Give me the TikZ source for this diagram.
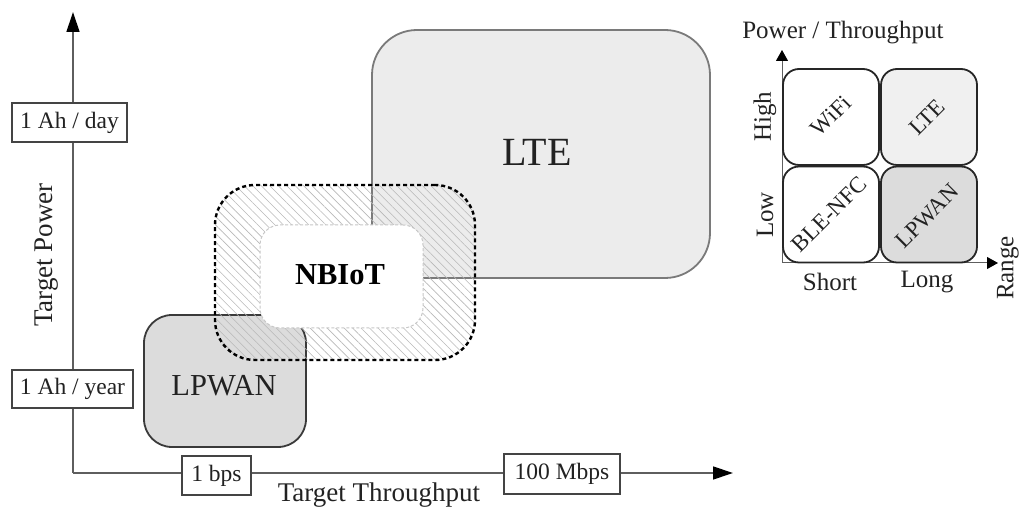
\documentclass[tikz,border=0pt]{standalone}
\usepackage{fontspec}
\setmainfont{Liberation Serif}
\usetikzlibrary{arrows.meta,patterns.meta}
\definecolor{axisgray}{HTML}{5E5E5E}
\definecolor{boxline}{HTML}{444444}
\definecolor{ltefill}{HTML}{ECECEC}
\definecolor{lteline}{HTML}{7A7A7A}
\definecolor{lpfill}{HTML}{DCDCDC}
\definecolor{lpline}{HTML}{3A3A3A}
\definecolor{txt}{HTML}{222222}
\tikzset{
  axisline/.style={draw=axisgray, line width=1.3pt},
  valbox/.style={draw=boxline, fill=white, line width=1.2pt, inner sep=0pt, outer sep=0pt,
    text=txt, font=\fontsize{23.5}{26}\selectfont},
  axlabel/.style={text=txt, font=\fontsize{27}{30}\selectfont, inner sep=0pt},
  bigbox/.style={rectangle, inner sep=0pt, outer sep=0pt, line width=1.8pt},
  chartbox/.style={rectangle, draw=black!85, line width=1.8pt, rounded corners=16pt,
    inner sep=0pt, outer sep=0pt, minimum width=96pt, minimum height=96pt},
  chartlabel/.style={text=txt, font=\fontsize{25}{28}\selectfont, inner sep=0pt},
  boxlabel/.style={text=txt, font=\fontsize{23}{26}\selectfont, inner sep=0pt, rotate=45},
}
\begin{document}
\begin{tikzpicture}[x=1pt,y=-1pt]
\useasboundingbox (0,0) rectangle (1021,510);
% main axes
\coordinate (O) at (73,473);
\coordinate (ytip) at (73,12);
\coordinate (xtip) at (733,473);
\draw[axisline, -{Triangle[length=20pt,width=13pt,color=black]}] (O) -- (ytip);
\draw[axisline, -{Triangle[length=20pt,width=13pt,color=black]}] (O) -- (xtip);
% big boxes
\node[bigbox, draw=lteline, fill=ltefill, rounded corners=45pt,
  minimum width=338pt, minimum height=248pt] (lte) at (541,154) {};
\node[text=txt, font=\fontsize{40}{44}\selectfont, inner sep=0pt] (ltet) at (537,152) {LTE};
\node[bigbox, draw=lpline, fill=lpfill, rounded corners=28pt,
  minimum width=162pt, minimum height=132pt] (lpwan) at (225,381) {};
\node[text=txt, font=\fontsize{30.5}{33}\selectfont, inner sep=0pt] (lpwant) at (224,386) {LPWAN};
% NB-IoT
\node[bigbox, rounded corners=40pt, minimum width=260pt, minimum height=175pt,
  pattern={Lines[angle=-45,distance=6pt,line width=0.6pt]}, pattern color=black!28]
  (nbo) at (345,272.5) {};
\node[bigbox, draw=black, line width=2.4pt, dash pattern=on 4pt off 3pt, rounded corners=40pt,
  minimum width=260pt, minimum height=175pt] (nbob) at (345,272.5) {};
\node[bigbox, draw=black!22, line width=1pt, dash pattern=on 3pt off 2pt, fill=white,
  rounded corners=20pt, minimum width=163pt, minimum height=103pt] (nbi) at (341.5,276.5) {};
\node[text=black, font=\fontsize{30.5}{33}\selectfont\bfseries, inner sep=0pt] (nbt) at (340,275) {NBIoT};
% value boxes
\node[valbox, minimum width=115pt, minimum height=39pt] (day) at (69.5,122.5) {1 Ah / day};
\node[valbox, minimum width=121pt, minimum height=38pt] (year) at (72.5,389) {1 Ah / year};
\node[valbox, minimum width=69pt, minimum height=39pt] (bps) at (216.5,475.5) {1 bps};
\node[valbox, minimum width=116pt, minimum height=40pt] (mbps) at (562,474) {100 Mbps};
\node[axlabel, rotate=90] (tpow) at (47,255) {Target Power};
\node[axlabel] (tthr) at (379,495) {Target Throughput};
% small chart
\coordinate (o2) at (782,263);
\coordinate (y2) at (782,50);
\coordinate (x2) at (998,263);
\draw[axisline, line width=1pt, -{Triangle[length=11pt,width=12pt,color=black]}] (o2) -- (y2);
\draw[axisline, line width=1pt, -{Triangle[length=11pt,width=12pt,color=black]}] (o2) -- (x2);
\node[chartbox, fill=white] (wifi) at (831,117) {};
\node[chartbox, fill=ltefill!80!white] (clte) at (929,117) {};
\node[chartbox, fill=white] (ble) at (831,214.5) {};
\node[chartbox, fill=lpfill] (clp) at (929,214.5) {};
\node[boxlabel] (wifit) at (831,116) {WiFi};
\node[boxlabel] (cltet) at (927,117) {LTE};
\node[boxlabel] (blet) at (829,214) {BLE-NFC};
\node[boxlabel] (clpt) at (927,216) {LPWAN};
\node[chartlabel] (pt) at (843,33) {Power / Throughput};
\node[chartlabel, rotate=90] (high) at (765,117) {High};
\node[chartlabel, rotate=90] (low) at (765,215) {Low};
\node[chartlabel] (short) at (830,282) {Short};
\node[chartlabel] (long) at (927,282) {Long};
\node[chartlabel, rotate=90] (range) at (1008,268) {Range};
\end{tikzpicture}
\end{document}
